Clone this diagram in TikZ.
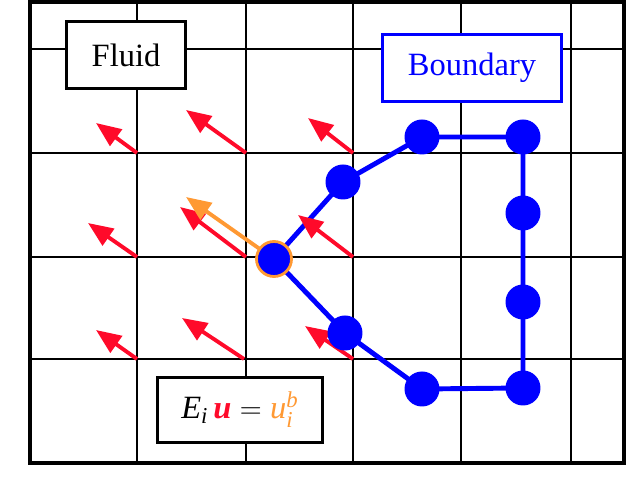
\documentclass[tikz,border=0pt]{standalone}
\usepackage{amsmath}
\usepackage{fontspec}
\setmainfont{Liberation Serif}
\usetikzlibrary{arrows.meta}
\definecolor{ibblue}{HTML}{0000FF}
\definecolor{velred}{HTML}{FF0A2A}
\definecolor{ibmorange}{HTML}{FF9933}
\pgfdeclarelayer{grid}
\pgfdeclarelayer{flow}
\pgfsetlayers{grid,flow,main}

\begin{document}
\begin{tikzpicture}[
  x=0.02cm,y=-0.02cm,
  font=\fontsize{18.5}{22}\selectfont,
  >={Triangle[length=0.5cm,width=0.4cm]},
  cell/.style={line width=1.4pt},
  tag/.style={draw=black,fill=white,line width=2pt,minimum height=1.34cm,inner sep=2pt},
  lag/.style={circle,fill=ibblue,minimum size=0.7cm,inner sep=0pt},
  link/.style={draw=ibblue,line width=2.8pt},
  vel/.style={->,draw=velred,fill=velred,line width=2.2pt}
]
\useasboundingbox (0,0) rectangle (640,499);
% --- labels ---------------------------------------------------------------
\node[tag,minimum width=2.38cm] (fluid) at (126,55) {Fluid};
\node[tag,draw=ibblue,text=ibblue,minimum width=3.58cm] (bnd) at (472,68) {Boundary};
\node[tag,minimum width=3.3cm,minimum height=1.3cm] (eq) at (240,410)
  {$\textit{E}_{\textit{i}}\,\textcolor{velred}{\textbf{\textit{u}}} = \textcolor{ibmorange}{\textit{u}_{\textit{i}}^{\textit{b}}}$};
% --- Lagrangian markers ----------------------------------------------------
\node[lag] (m1) at (343,182) {};
\node[lag] (m2) at (422,137) {};
\node[lag] (m3) at (523,137) {};
\node[lag] (m4) at (523,213) {};
\node[lag] (m5) at (523,302) {};
\node[lag] (m6) at (523,388) {};
\node[lag] (m7) at (422,389) {};
\node[lag] (m8) at (345,333) {};
\node[lag,draw=ibmorange,line width=1.6pt] (ib) at (274,259) {};
% --- Eulerian grid -----------------------------------------------------------
\begin{pgfonlayer}{grid}
\foreach \x in {137,246,353,461,571}{\draw[cell] (\x,2) -- (\x,463);}
\foreach \y in {49,153,257,359}{\draw[cell] (30,\y) -- (624,\y);}
\draw[line width=2.3pt] (30,2) rectangle (624,463);
\end{pgfonlayer}
% --- boundary and velocities -------------------------------------------------
\begin{pgfonlayer}{flow}
\draw[link] (ib.center) -- (m1.center) -- (m2.center) -- (m3.center) -- (m4.center)
  -- (m5.center) -- (m6.center) -- (m7.center) -- (m8.center) -- (ib.center);
\foreach \n/\tx/\ty/\hx/\hy in {1/137/153/96/123, 2/246/153/186/110, 3/353/153/308/118,
  4/137/257/88/223, 5/246/257/180/207, 6/353/257/298/215,
  7/137/359/96/330, 8/244/359/182/318, 9/353/359/305/326}{
  \coordinate (t\n) at (\tx,\ty);
  \coordinate (h\n) at (\hx,\hy);
  \draw[vel] (t\n) -- (h\n);
}
\coordinate (hb) at (186,197);
\draw[vel,draw=ibmorange,fill=ibmorange] (ib.center) -- (hb);
\end{pgfonlayer}
\end{tikzpicture}
\end{document}
